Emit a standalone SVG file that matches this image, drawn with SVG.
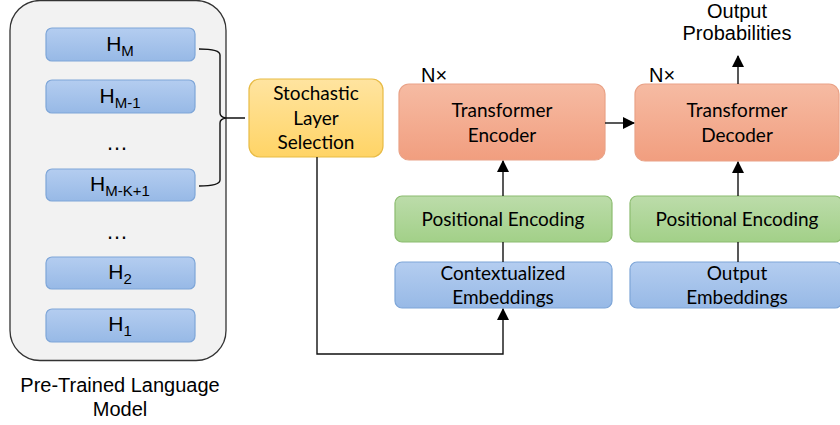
<svg xmlns="http://www.w3.org/2000/svg" width="840" height="425" viewBox="0 0 840 425">
<defs>
<linearGradient id="gBlue" x1="0" y1="0" x2="0" y2="1"><stop offset="0" stop-color="#b4cdf0"/><stop offset="1" stop-color="#97b9e6"/></linearGradient>
<linearGradient id="gGreen" x1="0" y1="0" x2="0" y2="1"><stop offset="0" stop-color="#bcdcaa"/><stop offset="1" stop-color="#a2d088"/></linearGradient>
<linearGradient id="gOrange" x1="0" y1="0" x2="0" y2="1"><stop offset="0" stop-color="#f6bba3"/><stop offset="1" stop-color="#f19e7f"/></linearGradient>
<linearGradient id="gYellow" x1="0" y1="0" x2="0" y2="1"><stop offset="0" stop-color="#ffe4a0"/><stop offset="1" stop-color="#ffd466"/></linearGradient>
<marker id="arr" markerWidth="12" markerHeight="12" refX="11" refY="6" orient="auto" markerUnits="userSpaceOnUse"><path d="M0,0 L12,6 L0,12 z" fill="#000"/></marker>
</defs>
<style>
.blue{fill:url(#gBlue);stroke:#7ea6d8;stroke-width:1.2}
.green{fill:url(#gGreen);stroke:#8cbc70;stroke-width:1.2}
.orange{fill:url(#gOrange);stroke:#e9a287;stroke-width:1.2}
.yellow{fill:url(#gYellow);stroke:#e8bb45;stroke-width:1.2}
.t{font-family:Lato,"Open Sans",sans-serif;font-size:19px;fill:#000;text-anchor:middle}
.h{font-family:"Liberation Sans",Arial,sans-serif;font-size:21px;fill:#000;text-anchor:middle}
.a{font-family:"Liberation Sans",Arial,sans-serif;font-size:20px;fill:#000;text-anchor:middle}
.d{font-family:"Liberation Sans",Arial,sans-serif;font-size:22px;fill:#000;text-anchor:middle}
.ln{fill:none;stroke:#111;stroke-width:1.4}
</style>
<g id="plm">
<rect x="10" y="0.5" width="216" height="360" rx="30" fill="#f2f2f2" stroke="#333" stroke-width="1.3"/>
<text class="a" x="120" y="392" font-size="20.5">Pre-Trained Language</text>
<text class="a" x="120" y="416" font-size="20.5">Model</text>
</g>
<g id="hM"><rect class="blue" x="46" y="28" width="149" height="33" rx="6"/><text class="h" x="120" y="51">H<tspan font-size="15" dy="5">M</tspan></text></g>
<g id="hM1"><rect class="blue" x="46" y="80" width="149" height="33" rx="6"/><text class="h" x="120" y="103">H<tspan font-size="15" dy="5">M-1</tspan></text></g>
<g id="dots1"><text class="d" x="117" y="150">…</text></g>
<g id="hMK1"><rect class="blue" x="46" y="169" width="149" height="32" rx="6"/><text class="h" x="120" y="191">H<tspan font-size="15" dy="5">M-K+1</tspan></text></g>
<g id="dots2"><text class="d" x="117" y="239">…</text></g>
<g id="h2"><rect class="blue" x="46" y="257" width="149" height="32" rx="6"/><text class="h" x="120" y="279">H<tspan font-size="15" dy="5">2</tspan></text></g>
<g id="h1"><rect class="blue" x="46" y="309" width="149" height="33" rx="6"/><text class="h" x="120" y="331">H<tspan font-size="15" dy="5">1</tspan></text></g>
<g id="stochastic"><rect class="yellow" x="249" y="79" width="134" height="78" rx="11"/>
<text class="t" x="316" y="100">Stochastic</text><text class="t" x="316" y="125">Layer</text><text class="t" x="316" y="149">Selection</text></g>
<g id="encoder"><rect class="orange" x="399" y="84" width="206" height="76" rx="10"/>
<text class="t" x="502" y="117">Transformer</text><text class="t" x="502" y="142">Encoder</text>
<text class="a" x="434" y="82" font-size="19">N×</text></g>
<g id="decoder"><rect class="orange" x="635" y="84" width="204" height="77" rx="10"/>
<text class="t" x="737" y="117">Transformer</text><text class="t" x="737" y="142">Decoder</text>
<text class="a" x="662" y="82" font-size="19">N×</text></g>
<g id="pe1"><rect class="green" x="395" y="196" width="217" height="46" rx="7"/><text class="t" x="503" y="226">Positional Encoding</text></g>
<g id="pe2"><rect class="green" x="630" y="196" width="212" height="46" rx="7"/><text class="t" x="737" y="226">Positional Encoding</text></g>
<g id="ctx"><rect class="blue" x="395" y="262" width="217" height="46" rx="7"/><text class="t" x="503" y="280">Contextualized</text><text class="t" x="503" y="304">Embeddings</text></g>
<g id="outemb"><rect class="blue" x="630" y="262" width="212" height="46" rx="7"/><text class="t" x="737" y="280">Output</text><text class="t" x="737" y="304">Embeddings</text></g>
<g id="outprob"><text class="a" x="737" y="18" font-size="19.5">Output</text><text class="a" x="737" y="40" font-size="19.5">Probabilities</text></g>
<g id="connectors">
<path class="ln" d="M199,49 Q220,49 220,55 L220,113 Q220,117 226,118 L245,118 M226,118 Q220,119 220,123 L220,180 Q220,186 199,186"/>
<path class="ln" d="M317,157 L317,354 L503,354 L503,309" marker-end="url(#arr)"/>
<path class="ln" d="M605,123 L634,123" marker-end="url(#arr)"/>
<path class="ln" d="M503,196 L503,161" marker-end="url(#arr)"/>
<path class="ln" d="M503,262 L503,242"/>
<path class="ln" d="M738,196 L738,162" marker-end="url(#arr)"/>
<path class="ln" d="M738,262 L738,242"/>
<path class="ln" d="M738,84 L738,56" marker-end="url(#arr)"/>
</g>
</svg>
